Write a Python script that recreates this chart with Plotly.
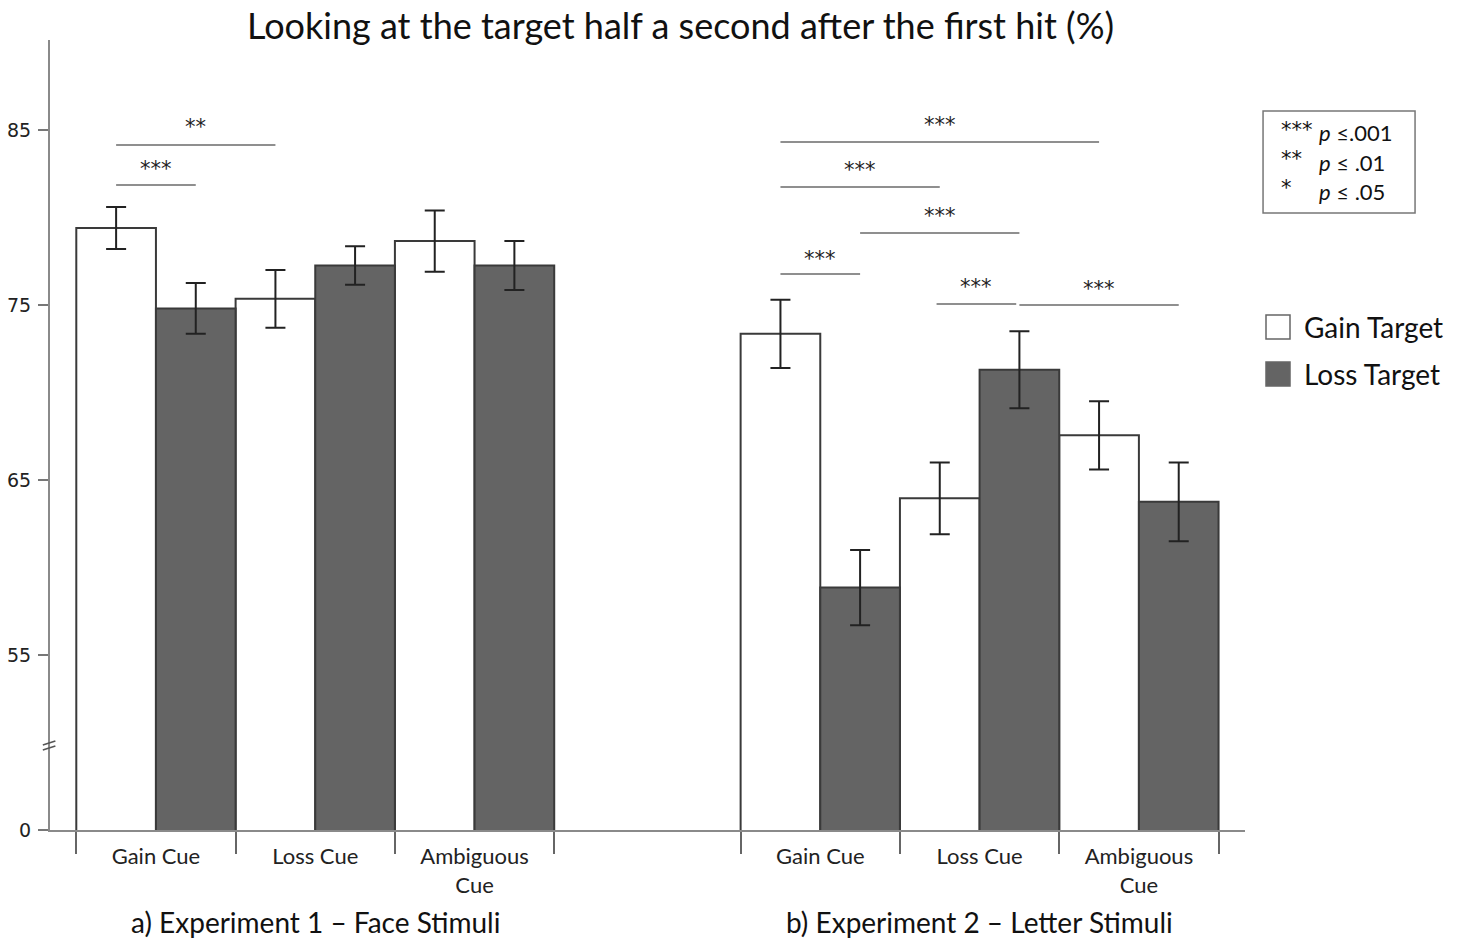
import plotly.graph_objects as go

# ---------------- data ----------------
cues = ["Gain Cue", "Loss Cue", "Ambiguous<br>Cue"]
group_pos_exp1 = [0.0, 1.0, 2.0]
group_pos_exp2 = [4.17, 5.17, 6.17]

exp1_gain = [79.4, 75.35, 78.65]
exp1_gain_err = [1.2, 1.65, 1.75]
exp1_loss = [74.8, 77.25, 77.25]
exp1_loss_err = [1.45, 1.1, 1.4]

exp2_gain = [73.35, 63.95, 67.55]
exp2_gain_err = [1.95, 2.05, 1.95]
exp2_loss = [58.85, 71.3, 63.75]
exp2_loss_err = [2.15, 2.2, 2.25]

tick_vals = [45, 55, 65, 75, 85]
tick_text = ["0", "55", "65", "75", "85"]

# significance brackets: (x start, x end, y line, label, label y)
sig_x0 = [-0.25, -0.25, 3.92, 3.92, 4.42, 3.92, 4.90, 5.42]
sig_x1 = [0.75, 0.25, 5.92, 4.92, 5.42, 4.42, 5.40, 6.42]
sig_y = [84.14, 81.86, 84.31, 81.74, 79.11, 76.77, 75.06, 75.0]
sig_lab = ["**", "***", "***", "***", "***", "***", "***", "***"]
sig_lab_y = [85.15, 82.75, 85.3, 82.7, 80.1, 77.6, 76.0, 75.9]

chart_title = "Looking at the target half a second after the first hit (%)"
experiment_titles = ["a) Experiment 1 \u2013 Face Stimuli", "b) Experiment 2 \u2013 Letter Stimuli"]
series_names = ["Gain Target", "Loss Target"]

WHITE = "#ffffff"
GRAY = "#646464"
EDGE = "#3a3a3a"
FONT = "Lato, 'Open Sans', sans-serif"

FW, FH = 1460, 938

fig = go.Figure()

all_pos = group_pos_exp1 + group_pos_exp2
gain_vals = exp1_gain + exp2_gain
gain_errs = exp1_gain_err + exp2_gain_err
loss_vals = exp1_loss + exp2_loss
loss_errs = exp1_loss_err + exp2_loss_err

err_style = dict(type="data", visible=True, color="#222222", thickness=2, width=10)

fig.add_trace(go.Bar(
    x=[p - 0.25 for p in all_pos], y=gain_vals, width=0.5,
    name=series_names[0], marker=dict(color=WHITE, line=dict(color=EDGE, width=2)),
    error_y=dict(array=gain_errs, **err_style), showlegend=False,
))
fig.add_trace(go.Bar(
    x=[p + 0.25 for p in all_pos], y=loss_vals, width=0.5,
    name=series_names[1], marker=dict(color=GRAY, line=dict(color=EDGE, width=2)),
    error_y=dict(array=loss_errs, **err_style), showlegend=False,
))

shapes = []
annotations = []

# title (as annotation, placed in page pixels)
annotations.append(dict(x=(680 - 50) / 1195, y=(830 - 25) / 790, xref="paper", yref="paper",
                        text=chart_title, showarrow=False, xanchor="center", yanchor="middle",
                        font=dict(family=FONT, size=36, color="#111")))

# significance lines
for x0, x1, yv, lab, ly in zip(sig_x0, sig_x1, sig_y, sig_lab, sig_lab_y):
    shapes.append(dict(type="line", xref="x", yref="y", x0=x0, x1=x1, y0=yv, y1=yv,
                       line=dict(color="#6a6a6a", width=1.5)))
    annotations.append(dict(x=(x0 + x1) / 2, y=ly, xref="x", yref="y", text=lab,
                            showarrow=False, font=dict(family="DejaVu Sans", size=21, color="#222")))

# axis break marks
for yy0, yy1 in [(49.57, 49.80), (49.86, 50.09)]:
    shapes.append(dict(type="line", xref="paper", yref="y", x0=-0.006, x1=0.0045,
                       y0=yy0, y1=yy1, line=dict(color="#555", width=1.5)))

# experiment titles
for txt, xc in zip(experiment_titles, [1.0, 5.17]):
    annotations.append(dict(x=xc, y=-0.1165, xref="x", yref="paper", text=txt,
                            showarrow=False, yanchor="middle",
                            font=dict(family=FONT, size=28, color="#111")))

# significance key box
shapes.append(dict(type="rect", xref="paper", yref="paper", x0=1.0151, x1=1.1423,
                   y0=0.781, y1=0.9101, line=dict(color="#777", width=1.5),
                   fillcolor="rgba(0,0,0,0)"))
key_stars = ["***", "**", "*"]
key_text = ["<i>p</i> \u2264.001", "<i>p</i> \u2264 .01", "<i>p</i> \u2264 .05"]
key_y_px = [133, 162, 191]
for s, t, ypx in zip(key_stars, key_text, key_y_px):
    yp = (830 - ypx) / 790
    annotations.append(dict(x=(1279 - 50) / 1195, y=yp + 0.004, xref="paper", yref="paper", text=s,
                            showarrow=False, xanchor="left", yanchor="middle",
                            font=dict(family="DejaVu Sans", size=21, color="#111")))
    annotations.append(dict(x=(1317 - 50) / 1195, y=yp, xref="paper", yref="paper", text=t,
                            showarrow=False, xanchor="left", yanchor="middle",
                            font=dict(family=FONT, size=22, color="#111")))

# custom legend
leg_colors = [WHITE, GRAY]
leg_y_px = [327, 374]
for name, col, ypx in zip(series_names, leg_colors, leg_y_px):
    shapes.append(dict(type="rect", xref="paper", yref="paper",
                       x0=(1266 - 50) / 1195, x1=(1290 - 50) / 1195,
                       y0=(830 - (ypx + 12)) / 790, y1=(830 - (ypx - 12)) / 790,
                       fillcolor=col, line=dict(color="#666", width=1.5)))
    annotations.append(dict(x=(1302 - 50) / 1195, y=(830 - ypx) / 790, xref="paper", yref="paper",
                            text=name, showarrow=False, xanchor="left", yanchor="middle",
                            font=dict(family=FONT, size=28, color="#111")))

boundaries = [-0.5, 0.5, 1.5, 2.5, 3.67, 4.67, 5.67, 6.67]

fig.update_layout(
    width=FW, height=FH,
    margin=dict(l=50, r=FW - 1245, t=40, b=FH - 830),
    paper_bgcolor="white", plot_bgcolor="white",
    barmode="overlay",
    shapes=shapes, annotations=annotations,
    xaxis=dict(range=[-0.665, 6.836], showgrid=False, zeroline=False, automargin=False,
               showline=True, linecolor="#8a8a8a", linewidth=2,
               tickmode="array", tickvals=all_pos, ticktext=cues + cues,
               ticks="", ticklabelstandoff=6,
               tickfont=dict(family=FONT, size=22, color="#222"),
               minor=dict(tickmode="array", tickvals=boundaries, ticks="outside",
                          ticklen=22, tickwidth=1.5, tickcolor="#666")),
    yaxis=dict(range=[45, 90.14], showgrid=False, zeroline=False, automargin=False,
               showline=True, linecolor="#8a8a8a", linewidth=2,
               tickmode="array", tickvals=tick_vals, ticktext=tick_text,
               ticks="outside", ticklen=10, tickwidth=1.5, tickcolor="#777",
               ticklabelstandoff=3,
               tickfont=dict(family="DejaVu Sans", size=19, color="#222")),
)

fig.write_html("out.html", config={"displayModeBar": False},
               post_script="document.body.style.margin='0';")
